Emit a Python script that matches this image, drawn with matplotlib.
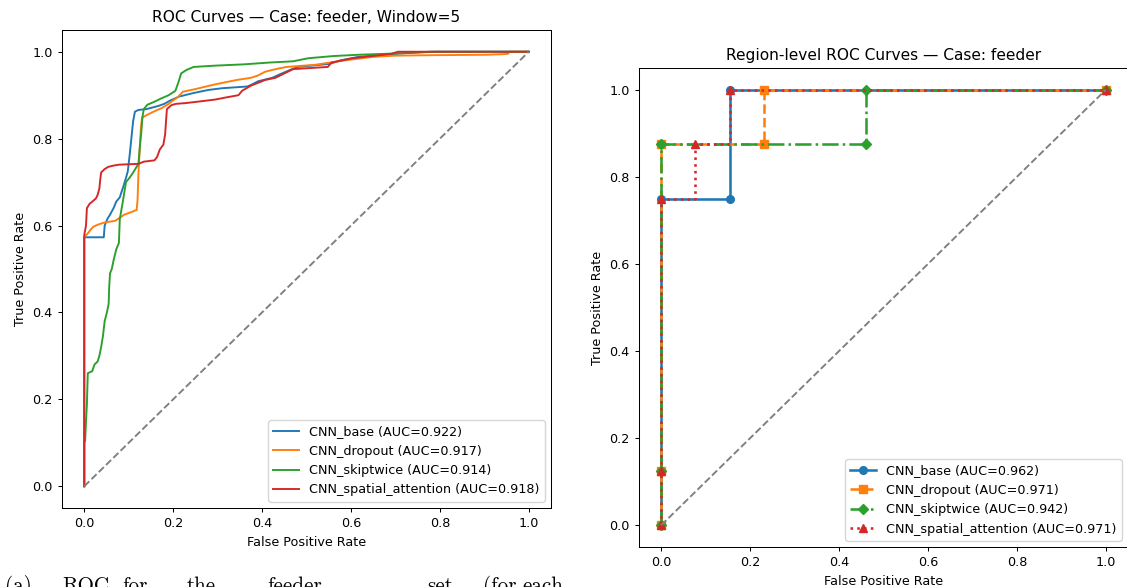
import matplotlib
matplotlib.use("Agg")
import matplotlib.pyplot as plt

# ---- pixel-level ROC (left panel) as (fpr, tpr) ----
base_roc = [(0, 0), (0, 0.573), (0.044, 0.573), (0.046, 0.600), (0.052, 0.615), (0.058, 0.625),
            (0.066, 0.640), (0.072, 0.655), (0.080, 0.665), (0.088, 0.690), (0.094, 0.710),
            (0.098, 0.725), (0.102, 0.760), (0.106, 0.800), (0.110, 0.840), (0.114, 0.862),
            (0.122, 0.866), (0.140, 0.868), (0.166, 0.875), (0.180, 0.880), (0.194, 0.888),
            (0.214, 0.897), (0.246, 0.905), (0.279, 0.912), (0.310, 0.916), (0.367, 0.920),
            (0.378, 0.925), (0.391, 0.932), (0.423, 0.940), (0.440, 0.948), (0.463, 0.958),
            (0.480, 0.965), (0.552, 0.972), (0.576, 0.980), (0.616, 0.988), (0.696, 0.995),
            (0.777, 1.0), (1.0, 1.0)]

dropout_roc = [(0, 0), (0, 0.573), (0.008, 0.582), (0.014, 0.590), (0.020, 0.597), (0.026, 0.600),
               (0.036, 0.604), (0.046, 0.607), (0.058, 0.609), (0.070, 0.611), (0.080, 0.618),
               (0.090, 0.625), (0.098, 0.628), (0.106, 0.631), (0.118, 0.636), (0.120, 0.660),
               (0.122, 0.720), (0.124, 0.760), (0.126, 0.800), (0.128, 0.830), (0.130, 0.848),
               (0.142, 0.855), (0.158, 0.863), (0.174, 0.870), (0.190, 0.880), (0.200, 0.888),
               (0.210, 0.895), (0.222, 0.908), (0.250, 0.914), (0.270, 0.919), (0.295, 0.925),
               (0.319, 0.930), (0.343, 0.935), (0.375, 0.940), (0.390, 0.945), (0.407, 0.954),
               (0.431, 0.960), (0.455, 0.965), (0.520, 0.970), (0.552, 0.975), (0.585, 0.980),
               (0.648, 0.988), (0.700, 0.991), (0.777, 0.992), (0.905, 0.993), (0.953, 0.995),
               (0.957, 1.0), (1.0, 1.0)]

skiptwice_roc = [(0, 0), (0, 0.100), (0.002, 0.104), (0.004, 0.150), (0.006, 0.188), (0.008, 0.260),
                 (0.018, 0.265), (0.023, 0.280), (0.030, 0.287), (0.034, 0.300), (0.038, 0.320),
                 (0.042, 0.345), (0.046, 0.380), (0.051, 0.400), (0.055, 0.420), (0.056, 0.455),
                 (0.058, 0.490), (0.062, 0.500), (0.066, 0.520), (0.072, 0.545), (0.078, 0.560),
                 (0.080, 0.615), (0.086, 0.650), (0.094, 0.700), (0.102, 0.710), (0.110, 0.722),
                 (0.116, 0.732), (0.122, 0.742), (0.125, 0.780), (0.128, 0.810), (0.131, 0.850),
                 (0.134, 0.868), (0.142, 0.878), (0.158, 0.885), (0.172, 0.892), (0.190, 0.900),
                 (0.205, 0.910), (0.212, 0.930), (0.218, 0.950), (0.230, 0.958), (0.246, 0.965),
                 (0.295, 0.968), (0.360, 0.971), (0.415, 0.975), (0.470, 0.978), (0.504, 0.985),
                 (0.560, 0.990), (0.616, 0.993), (0.700, 0.996), (0.790, 1.0), (1.0, 1.0)]

spatial_roc = [(0, 0), (0, 0.578), (0.004, 0.600), (0.006, 0.640), (0.012, 0.650), (0.018, 0.655),
               (0.026, 0.662), (0.030, 0.670), (0.034, 0.685), (0.036, 0.705), (0.038, 0.722),
               (0.046, 0.730), (0.054, 0.735), (0.066, 0.738), (0.078, 0.740), (0.100, 0.741),
               (0.122, 0.742), (0.134, 0.747), (0.158, 0.750), (0.164, 0.758), (0.170, 0.775),
               (0.178, 0.786), (0.182, 0.810), (0.184, 0.840), (0.186, 0.868), (0.196, 0.877),
               (0.206, 0.880), (0.230, 0.882), (0.255, 0.885), (0.295, 0.890), (0.320, 0.895),
               (0.347, 0.900), (0.355, 0.910), (0.375, 0.922), (0.395, 0.930), (0.407, 0.935),
               (0.430, 0.940), (0.450, 0.950), (0.470, 0.960), (0.548, 0.965), (0.556, 0.975),
               (0.580, 0.980), (0.604, 0.985), (0.648, 0.990), (0.690, 0.995), (0.706, 1.0),
               (1.0, 1.0)]

models = ["CNN_base", "CNN_dropout", "CNN_skiptwice", "CNN_spatial_attention"]
pixel_auc = [0.922, 0.917, 0.914, 0.918]

# ---- region-level ROC (right panel) ----
region_fpr = [
    [0, 0, 0, 2 / 13, 2 / 13, 1],
    [0, 0, 0, 3 / 13, 3 / 13, 1],
    [0, 0, 0, 6 / 13, 6 / 13, 1],
    [0, 0, 0, 1 / 13, 2 / 13, 1],
]
region_tpr = [
    [0, 0.125, 0.75, 0.75, 1.0, 1.0],
    [0, 0.125, 0.875, 0.875, 1.0, 1.0],
    [0, 0.125, 0.875, 0.875, 1.0, 1.0],
    [0, 0.125, 0.75, 0.875, 1.0, 1.0],
]
region_auc = [0.962, 0.971, 0.942, 0.971]

colors = ["#1f77b4", "#ff7f0e", "#2ca02c", "#d62728"]
styles = ["-", "--", "-.", ":"]
markers = ["o", "s", "D", "^"]

s = 0.92  # overall scale of the screenshot
plt.rcParams["font.size"] = 10 * s
plt.rcParams["axes.titlesize"] = 12 * s
plt.rcParams["axes.linewidth"] = 0.8 * s
plt.rcParams["xtick.major.width"] = 0.8 * s
plt.rcParams["ytick.major.width"] = 0.8 * s
plt.rcParams["xtick.major.size"] = 3.5 * s
plt.rcParams["ytick.major.size"] = 3.5 * s

fig = plt.figure(figsize=(11.27, 5.87), dpi=100)
W, H = 1127, 587

# left panel
ax1 = fig.add_axes([62 / W, 1 - 508 / H, 489 / W, 478 / H])
for roc, name, auc, c in zip([base_roc, dropout_roc, skiptwice_roc, spatial_roc], models, pixel_auc, colors):
    fpr = [p[0] for p in roc]
    tpr = [p[1] for p in roc]
    ax1.plot(fpr, tpr, color=c, lw=1.5 * s, label=f"{name} (AUC={auc:.3f})")
ax1.plot([0, 1], [0, 1], color="gray", ls="--", lw=1.5 * s)
ax1.set_title("ROC Curves — Case: feeder, Window=5")
ax1.set_xlabel("False Positive Rate")
ax1.set_ylabel("True Positive Rate")
ax1.legend(loc="lower right")

# right panel (cut by the page edge)
ax2 = fig.add_axes([639 / W, 1 - 547 / H, 489 / W, 479 / H])
for i in range(4):
    ax2.plot(region_fpr[i], region_tpr[i], color=colors[i], ls=styles[i], marker=markers[i],
             lw=2 * s, ms=6 * s, drawstyle="steps-post",
             label=f"{models[i]} (AUC={region_auc[i]:.3f})")
ax2.plot([0, 1], [0, 1], color="gray", ls="--", lw=1.5 * s)
ax2.set_title("Region-level ROC Curves — Case: feeder")
ax2.set_xlabel("False Positive Rate")
ax2.set_ylabel("True Positive Rate")
ax2.legend(loc="lower right")

# caption of the document, only the top is visible (cut like in the screenshot)
caption_words = ["(a)", "ROC", "for", "the", "feeder", "set", "(for", "each"]
caption_x = [5, 62, 122, 187, 267, 427, 483, 522]
for w, x in zip(caption_words, caption_x):
    fig.text(x / W, 1 - 592 / H, w, family="cmr10", fontsize=15.2, va="baseline", ha="left")

fig.savefig("out.png", dpi=100)
